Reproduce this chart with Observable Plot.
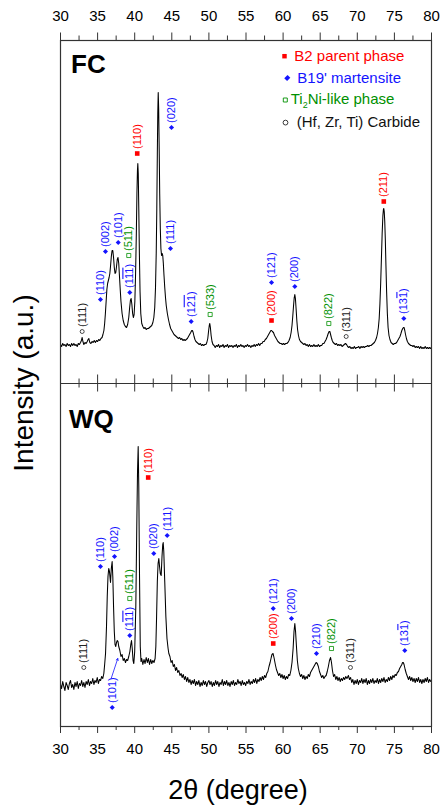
<!DOCTYPE html>
<html><head><meta charset="utf-8">
<script src="https://cdn.jsdelivr.net/npm/d3@7"></script>
<script src="https://cdn.jsdelivr.net/npm/@observablehq/plot@0.6"></script>
<style>body{margin:0;background:#fff}#chart{width:442px;height:807px;position:relative}</style>
</head><body><div id="chart"></div>
<script>
// ---------- data ----------
const xMajorTicks = [30,35,40,45,50,55,60,65,70,75,80];
const xMinorTicks = [32.5,37.5,42.5,47.5,52.5,57.5,62.5,67.5,72.5,77.5];
const panelNames = ["FC","WQ"];
const phaseNames = {B:"B2 parent phase", M:"B19' martensite", T:"Ti2Ni-like phase", C:"(Hf, Zr, Ti) Carbide"};

// [2θ (degree), intensity (a.u.)]
const fcScan = [[30.0,39],[30.15,37],[30.3,40],[30.45,38],[30.6,39],[30.75,37],[30.9,40],[31.05,38],[31.2,39],[31.35,37],[31.5,40],[31.65,38],[31.8,40],[31.95,38],[32.1,39],[32.25,37],[32.4,40],[32.55,39],[32.7,41],[32.82,43],[32.92,46],[33.02,42],[33.15,39],[33.3,41],[33.45,40],[33.6,42],[33.72,44],[33.82,45],[33.95,41],[34.1,40],[34.25,42],[34.4,41],[34.55,43],[34.7,41],[34.85,43],[35.0,42],[35.15,44],[35.3,43],[35.45,45],[35.6,46],[35.72,49],[35.85,53],[35.95,60],[36.05,70],[36.15,82],[36.25,94],[36.35,100],[36.45,103],[36.55,106],[36.65,110],[36.75,118],[36.85,127],[36.95,133],[37.05,133],[37.15,126],[37.25,116],[37.35,110],[37.45,111],[37.55,117],[37.65,124],[37.75,126],[37.85,120],[37.95,107],[38.05,94],[38.15,82],[38.3,70],[38.45,63],[38.6,59],[38.75,57],[38.9,56],[39.05,59],[39.2,66],[39.32,76],[39.42,83],[39.52,85],[39.62,79],[39.72,70],[39.82,66],[39.92,69],[40.02,82],[40.12,110],[40.22,150],[40.3,190],[40.37,213],[40.42,220],[40.48,210],[40.55,175],[40.63,130],[40.72,92],[40.82,70],[40.95,60],[41.1,57],[41.25,55],[41.4,56],[41.55,54],[41.7,55],[41.85,55],[42.0,56],[42.15,57],[42.3,58],[42.45,61],[42.58,66],[42.7,76],[42.8,95],[42.9,130],[42.98,175],[43.05,230],[43.11,270],[43.17,291],[43.23,275],[43.3,235],[43.37,190],[43.45,155],[43.53,135],[43.62,128],[43.7,130],[43.78,128],[43.86,120],[43.95,108],[44.05,96],[44.15,86],[44.25,78],[44.4,70],[44.55,64],[44.7,59],[44.85,55],[45.0,53],[45.15,51],[45.3,49],[45.45,48],[45.6,47],[45.75,46],[45.9,45],[46.05,46],[46.2,44],[46.35,45],[46.5,43],[46.65,44],[46.8,43],[46.95,44],[47.1,45],[47.25,47],[47.4,49],[47.55,51],[47.68,53],[47.78,53],[47.88,51],[48.0,47],[48.12,44],[48.25,42],[48.4,41],[48.55,40],[48.7,39],[48.85,40],[49.0,38],[49.15,39],[49.3,38],[49.45,39],[49.6,39],[49.72,41],[49.85,45],[49.95,52],[50.05,58],[50.12,60],[50.2,56],[50.3,48],[50.42,42],[50.55,39],[50.7,38],[50.85,36],[51.0,38],[51.15,37],[51.3,39],[51.45,36],[51.6,38],[51.75,37],[51.9,39],[52.05,36],[52.2,38],[52.35,37],[52.5,39],[52.65,36],[52.8,38],[52.95,37],[53.1,38],[53.25,36],[53.4,38],[53.55,37],[53.7,39],[53.85,36],[54.0,38],[54.15,37],[54.3,39],[54.45,37],[54.6,38],[54.75,36],[54.9,38],[55.05,37],[55.2,39],[55.35,37],[55.5,38],[55.65,36],[55.8,38],[55.95,37],[56.1,39],[56.25,37],[56.4,39],[56.55,38],[56.7,40],[56.85,38],[57.0,40],[57.15,40],[57.3,42],[57.45,42],[57.6,44],[57.75,45],[57.9,47],[58.05,49],[58.2,51],[58.35,53],[58.45,53],[58.55,52],[58.7,51],[58.85,48],[59.0,46],[59.15,44],[59.3,42],[59.45,41],[59.6,40],[59.75,40],[59.9,39],[60.05,40],[60.2,39],[60.35,40],[60.5,40],[60.65,41],[60.8,43],[60.95,46],[61.08,51],[61.2,58],[61.3,67],[61.4,77],[61.5,86],[61.58,89],[61.66,85],[61.75,75],[61.85,63],[61.95,54],[62.07,48],[62.2,44],[62.35,42],[62.5,41],[62.65,40],[62.8,39],[62.95,40],[63.1,38],[63.25,39],[63.4,37],[63.55,39],[63.7,37],[63.85,38],[64.0,37],[64.15,39],[64.3,37],[64.45,38],[64.6,37],[64.75,39],[64.9,37],[65.05,38],[65.2,38],[65.35,40],[65.5,40],[65.65,42],[65.8,44],[65.95,47],[66.08,50],[66.2,52],[66.3,52],[66.4,49],[66.5,46],[66.62,43],[66.75,41],[66.9,40],[67.05,39],[67.2,40],[67.35,38],[67.5,39],[67.65,38],[67.8,39],[67.95,37],[68.1,38],[68.25,39],[68.4,40],[68.55,39],[68.7,37],[68.85,36],[69.0,37],[69.15,35],[69.3,36],[69.45,35],[69.6,37],[69.75,35],[69.9,36],[70.05,36],[70.2,37],[70.35,35],[70.5,37],[70.65,36],[70.8,37],[70.95,36],[71.1,37],[71.25,37],[71.4,38],[71.55,37],[71.7,38],[71.85,38],[72.0,39],[72.15,40],[72.3,41],[72.45,43],[72.6,46],[72.72,50],[72.84,56],[72.95,65],[73.05,80],[73.15,100],[73.25,125],[73.35,150],[73.45,168],[73.52,174],[73.57,175],[73.63,172],[73.7,162],[73.78,143],[73.86,118],[73.95,92],[74.05,70],[74.15,56],[74.27,48],[74.4,44],[74.55,41],[74.7,40],[74.85,39],[75.0,40],[75.15,40],[75.3,41],[75.45,43],[75.6,45],[75.75,47],[75.88,50],[76.0,53],[76.12,55],[76.22,56],[76.3,56],[76.4,53],[76.5,49],[76.62,45],[76.75,42],[76.9,40],[77.05,39],[77.2,38],[77.35,38],[77.5,37],[77.65,38],[77.8,36],[77.95,37],[78.1,36],[78.25,37],[78.4,35],[78.55,37],[78.7,35],[78.85,36],[79.0,35],[79.15,37],[79.3,35],[79.45,36],[79.6,35],[79.75,36],[79.9,35],[80.0,36]];

const wqScan = [[30.0,42],[30.15,38],[30.3,45],[30.45,40],[30.6,36],[30.75,44],[30.9,41],[31.05,37],[31.2,43],[31.35,46],[31.5,39],[31.65,42],[31.8,37],[31.95,44],[32.1,40],[32.25,45],[32.4,38],[32.55,43],[32.7,41],[32.85,46],[33.0,40],[33.15,44],[33.3,39],[33.45,45],[33.6,42],[33.75,47],[33.9,41],[34.05,45],[34.2,43],[34.35,48],[34.5,42],[34.65,46],[34.8,44],[34.95,49],[35.1,43],[35.25,47],[35.4,46],[35.55,50],[35.7,48],[35.84,53],[35.95,62],[36.07,73],[36.2,100],[36.3,130],[36.4,150],[36.5,158],[36.6,155],[36.74,144],[36.85,158],[36.96,165],[37.05,150],[37.15,120],[37.25,95],[37.35,82],[37.45,80],[37.55,84],[37.65,86],[37.75,85],[37.85,80],[38.0,76],[38.15,70],[38.3,72],[38.45,66],[38.6,68],[38.76,64],[38.9,67],[39.05,66],[39.2,70],[39.35,75],[39.47,82],[39.57,86],[39.67,78],[39.78,66],[39.88,63],[40.0,75],[40.15,120],[40.28,200],[40.38,255],[40.47,280],[40.55,240],[40.65,150],[40.75,80],[40.85,65],[40.95,68],[41.1,62],[41.25,67],[41.4,63],[41.55,69],[41.7,64],[41.85,68],[42.0,62],[42.15,67],[42.3,63],[42.45,66],[42.6,64],[42.75,68],[42.85,80],[42.95,110],[43.05,145],[43.15,163],[43.25,168],[43.35,160],[43.45,153],[43.57,151],[43.68,170],[43.78,182],[43.84,184],[43.92,175],[44.05,145],[44.2,110],[44.35,88],[44.5,78],[44.6,73],[44.75,70],[44.9,64],[45.05,66],[45.2,60],[45.35,62],[45.5,56],[45.65,59],[45.8,54],[45.95,56],[46.1,51],[46.25,53],[46.4,49],[46.55,52],[46.7,47],[46.85,50],[47.0,45],[47.15,49],[47.3,44],[47.45,47],[47.6,42],[47.75,46],[47.9,43],[48.05,47],[48.2,41],[48.35,45],[48.5,42],[48.65,46],[48.8,40],[48.95,44],[49.1,41],[49.25,46],[49.4,42],[49.55,45],[49.7,40],[49.85,44],[50.0,46],[50.15,42],[50.3,45],[50.45,40],[50.6,44],[50.75,41],[50.9,46],[51.05,42],[51.2,45],[51.35,40],[51.5,44],[51.65,42],[51.8,47],[51.95,41],[52.1,45],[52.25,42],[52.4,46],[52.55,41],[52.7,44],[52.85,40],[53.0,45],[53.15,42],[53.3,46],[53.45,41],[53.6,44],[53.75,42],[53.9,47],[54.05,43],[54.2,45],[54.35,41],[54.5,46],[54.65,42],[54.8,44],[54.95,41],[55.1,45],[55.25,43],[55.4,47],[55.55,42],[55.7,45],[55.85,43],[56.0,47],[56.15,44],[56.3,48],[56.45,43],[56.6,47],[56.75,45],[56.9,49],[57.05,46],[57.2,50],[57.35,47],[57.5,51],[57.65,49],[57.8,53],[57.95,55],[58.1,60],[58.25,64],[58.4,69],[58.5,72],[58.65,73],[58.8,68],[58.95,62],[59.1,57],[59.25,54],[59.4,51],[59.55,53],[59.7,49],[59.85,52],[60.0,48],[60.15,51],[60.3,47],[60.45,50],[60.6,48],[60.75,52],[60.9,51],[61.05,56],[61.2,64],[61.35,78],[61.47,95],[61.58,103],[61.68,95],[61.8,80],[61.92,66],[62.05,58],[62.2,53],[62.35,50],[62.5,52],[62.65,48],[62.8,51],[62.95,47],[63.1,50],[63.25,48],[63.4,52],[63.55,50],[63.7,54],[63.85,56],[64.0,58],[64.15,60],[64.3,62],[64.45,64],[64.6,63],[64.75,60],[64.9,55],[65.05,52],[65.2,49],[65.35,51],[65.5,48],[65.65,50],[65.8,51],[65.95,55],[66.1,60],[66.25,66],[66.4,69],[66.52,64],[66.65,56],[66.8,50],[66.95,52],[67.1,47],[67.25,50],[67.4,46],[67.55,49],[67.7,45],[67.85,48],[68.0,46],[68.15,49],[68.3,47],[68.45,50],[68.6,48],[68.8,51],[68.95,47],[69.1,49],[69.25,44],[69.4,47],[69.55,42],[69.7,46],[69.85,43],[70.0,47],[70.15,42],[70.3,46],[70.45,44],[70.6,48],[70.75,43],[70.9,47],[71.05,44],[71.2,48],[71.35,42],[71.5,46],[71.65,43],[71.8,47],[71.95,44],[72.1,48],[72.25,43],[72.4,46],[72.55,44],[72.7,48],[72.85,43],[73.0,47],[73.15,44],[73.3,48],[73.45,45],[73.6,49],[73.75,44],[73.9,47],[74.05,45],[74.2,49],[74.35,46],[74.5,50],[74.65,47],[74.8,51],[74.95,49],[75.1,52],[75.25,51],[75.4,54],[75.55,55],[75.7,58],[75.85,60],[76.0,62],[76.1,64],[76.2,64],[76.3,62],[76.45,57],[76.6,53],[76.75,50],[76.9,47],[77.05,50],[77.2,46],[77.35,49],[77.5,45],[77.65,48],[77.8,44],[77.95,48],[78.1,45],[78.25,49],[78.4,44],[78.55,47],[78.7,43],[78.85,47],[79.0,44],[79.15,48],[79.3,45],[79.45,49],[79.6,44],[79.75,47],[79.9,45],[80.0,46]];

// peak annotations: 2θ, intensity of marker, phase, Miller index ("~" = overbar on next digit)
const fcPeaks = [
  {t:32.92, at:52,  ph:"C", hkl:"(111)"},
  {t:35.39, at:84,  ph:"M", hkl:"(110)"},
  {t:36.06, at:132, ph:"M", hkl:"(002)"},
  {t:37.78, at:141, ph:"M", hkl:"(101)"},
  {t:39.34, at:91,  ph:"M", hkl:"(1~1~1)"},
  {t:39.20, at:128, ph:"T", hkl:"(511)"},
  {t:40.34, at:230, ph:"B", hkl:"(110)"},
  {t:44.96, at:256, ph:"M", hkl:"(020)"},
  {t:44.82, at:135, ph:"M", hkl:"(111)"},
  {t:47.61, at:62,  ph:"M", hkl:"(1~2~1)"},
  {t:50.17, at:69,  ph:"T", hkl:"(533)"},
  {t:58.44, at:63,  ph:"B", hkl:"(200)"},
  {t:58.44, at:101, ph:"M", hkl:"(121)"},
  {t:61.58, at:97,  ph:"M", hkl:"(200)"},
  {t:66.16, at:60,  ph:"T", hkl:"(822)"},
  {t:68.50, at:47,  ph:"C", hkl:"(311)"},
  {t:73.57, at:182, ph:"B", hkl:"(211)"},
  {t:76.27, at:65,  ph:"M", hkl:"(13~1)"}
];
const wqPeaks = [
  {t:33.14, at:59,  ph:"C", hkl:"(111)"},
  {t:35.39, at:160, ph:"M", hkl:"(110)"},
  {t:37.28, at:170, ph:"M", hkl:"(002)"},
  {t:36.97, at:19,  ph:"M", hkl:"(101)"},
  {t:39.34, at:91,  ph:"M", hkl:"(1~1~1)"},
  {t:39.34, at:128, ph:"T", hkl:"(511)"},
  {t:41.82, at:249, ph:"B", hkl:"(110)"},
  {t:42.57, at:173, ph:"M", hkl:"(020)"},
  {t:44.38, at:191, ph:"M", hkl:"(111)"},
  {t:58.67, at:83,  ph:"B", hkl:"(200)"},
  {t:58.67, at:118, ph:"M", hkl:"(121)"},
  {t:61.13, at:108, ph:"M", hkl:"(200)"},
  {t:64.50, at:73,  ph:"M", hkl:"(210)"},
  {t:66.52, at:78,  ph:"T", hkl:"(822)"},
  {t:69.08, at:59,  ph:"C", hkl:"(311)"},
  {t:76.40, at:76,  ph:"M", hkl:"(13~1)"}
];
const wqLeader = [{t1:36.83, i1:48, t2:37.72, i2:68}];

// ---------- styling ----------
const PANEL = 343; // intensity span of one panel (panels stacked)
const FONT = "'Liberation Sans', Arial, Helvetica, sans-serif";
const phaseStyle = {
  B: {symbol:"square",   fill:"#ff0000", stroke:"none",    r:2.6, color:"#ff0000"},
  M: {symbol:"diamond2", fill:"#1414ff", stroke:"none",    r:2.3, color:"#1414ff"},
  T: {symbol:"square",   fill:"white",   stroke:"#009000", r:2.3, color:"#009000"},
  C: {symbol:"circle",   fill:"white",   stroke:"#222",    r:2.0, color:"#222"}
};
const peaks = [
  ...fcPeaks.map(d => ({...d, y: d.at + PANEL})),
  ...wqPeaks.map(d => ({...d, y: d.at}))
];
const axisColor = "#333";

const plot = Plot.plot({
  width: 442, height: 807,
  marginTop: 40, marginBottom: 81, marginLeft: 60, marginRight: 11,
  style: {fontFamily: FONT, fontSize: "15px", background: "white", color: "#000", overflow: "visible"},
  x: {domain: [30, 80]},
  y: {domain: [0, 2 * PANEL], axis: null},
  color: {type: "identity"},
  marks: [
    Plot.line(fcScan, {x: d => d[0], y: d => d[1] + PANEL, stroke: "#000", strokeWidth: 1.05}),
    Plot.line(wqScan, {x: d => d[0], y: d => d[1], stroke: "#000", strokeWidth: 1.05}),
    Plot.arrow(wqLeader, {x1: "t1", y1: "i1", x2: "t2", y2: "i2", stroke: phaseStyle.M.color, strokeWidth: 0.8, headLength: 4, bend: 0}),
    ...Object.entries(phaseStyle).map(([k, s]) =>
      Plot.dot(peaks.filter(d => d.ph === k), {x: "t", y: "y", symbol: s.symbol, r: s.r, fill: s.fill, stroke: s.stroke, strokeWidth: 0.8})),
    Plot.text(peaks, {x: "t", y: "y", text: "hkl", rotate: -90, textAnchor: "start", lineAnchor: "middle", dy: -4.5,
      fill: d => phaseStyle[d.ph].color, fontSize: 11}),
    Plot.frame({stroke: axisColor, strokeWidth: 1.2}),
    Plot.ruleY([PANEL], {stroke: axisColor, strokeWidth: 1.2}),
    Plot.ruleX(xMajorTicks, {x: d => d, y1: PANEL - 8.5, y2: PANEL + 8.5, stroke: axisColor, strokeWidth: 1}),
    Plot.ruleX(xMinorTicks, {x: d => d, y1: PANEL - 4.5, y2: PANEL + 4.5, stroke: axisColor, strokeWidth: 1}),
    Plot.ruleX(xMinorTicks, {x: d => d, y1: 2 * PANEL, y2: 2 * PANEL + 4.5, stroke: axisColor, strokeWidth: 1}),
    Plot.ruleX(xMinorTicks, {x: d => d, y1: 0, y2: -4, stroke: axisColor, strokeWidth: 1}),
    Plot.axisX(xMajorTicks, {anchor: "top", tickSize: 8.5, tickPadding: 11, label: null, stroke: axisColor, fill: "#000", fontSize: 15}),
    Plot.axisX(xMajorTicks, {anchor: "bottom", tickSize: 7, tickPadding: 10, label: null, stroke: axisColor, fill: "#000", fontSize: 15})
  ]
});
document.getElementById("chart").append(plot);

// overbars in Miller indices
const svg = d3.select("#chart svg");
svg.selectAll("text").each(function () {
  const s = this.textContent;
  if (!s.includes("~")) return;
  const segs = [];
  for (let i = 0; i < s.length; i++) {
    let bar = false, ch = s[i];
    if (ch === "~") { bar = true; ch = s[++i]; }
    const last = segs[segs.length - 1];
    if (last && last.bar === bar) last.txt += ch; else segs.push({bar, txt: ch});
  }
  this.textContent = "";
  for (const sg of segs) {
    const ts = d3.select(this).append("tspan").text(sg.txt);
    if (sg.bar) ts.style("text-decoration", "overline");
  }
});

// panel names, axis titles
const ann = svg.append("g").attr("font-family", FONT).attr("text-anchor", "start").attr("fill", "#000");
ann.append("text").attr("x", 71).attr("y", 72.5).attr("font-size", 26).attr("font-weight", "bold").text(panelNames[0]);
ann.append("text").attr("x", 69).attr("y", 427.5).attr("font-size", 26).attr("font-weight", "bold").text(panelNames[1]);
ann.append("text").attr("x", 238).attr("y", 799).attr("font-size", 27).attr("text-anchor", "middle").text("2θ (degree)");
ann.append("text").attr("transform", "translate(33,383) rotate(-90)").attr("font-size", 28).attr("text-anchor", "middle").text("Intensity (a.u.)");

// legend
const leg = svg.append("g").attr("font-family", FONT).attr("font-size", 15).attr("text-anchor", "start");
const sym = (type, size) => d3.symbol(type, size)();
leg.append("path").attr("d", sym(d3.symbolSquare, 20)).attr("transform", "translate(284.5,56.2)").attr("fill", phaseStyle.B.color);
leg.append("text").attr("x", 294.3).attr("y", 60.8).attr("fill", phaseStyle.B.color).text(phaseNames.B);
leg.append("path").attr("d", sym(d3.symbolSquare, 16)).attr("transform", "translate(287.3,78) rotate(45) scale(1,1.15)").attr("fill", phaseStyle.M.color);
leg.append("text").attr("x", 297.3).attr("y", 82.8).attr("fill", phaseStyle.M.color).text(phaseNames.M);
leg.append("path").attr("d", sym(d3.symbolSquare, 16)).attr("transform", "translate(285.3,100)").attr("fill", "white").attr("stroke", phaseStyle.T.color).attr("stroke-width", 0.9);
const tl = leg.append("text").attr("x", 290.7).attr("y", 104.4).attr("fill", phaseStyle.T.color);
tl.append("tspan").text("Ti");
tl.append("tspan").attr("font-size", 9).attr("dy", 3.5).text("2");
tl.append("tspan").attr("dy", -3.5).text("Ni-like phase");
leg.append("circle").attr("cx", 285.5).attr("cy", 122.6).attr("r", 2.4).attr("fill", "white").attr("stroke", "#222").attr("stroke-width", 0.9);
leg.append("text").attr("x", 296.7).attr("y", 127.4).attr("fill", "#111").text(phaseNames.C);
</script></body></html>
